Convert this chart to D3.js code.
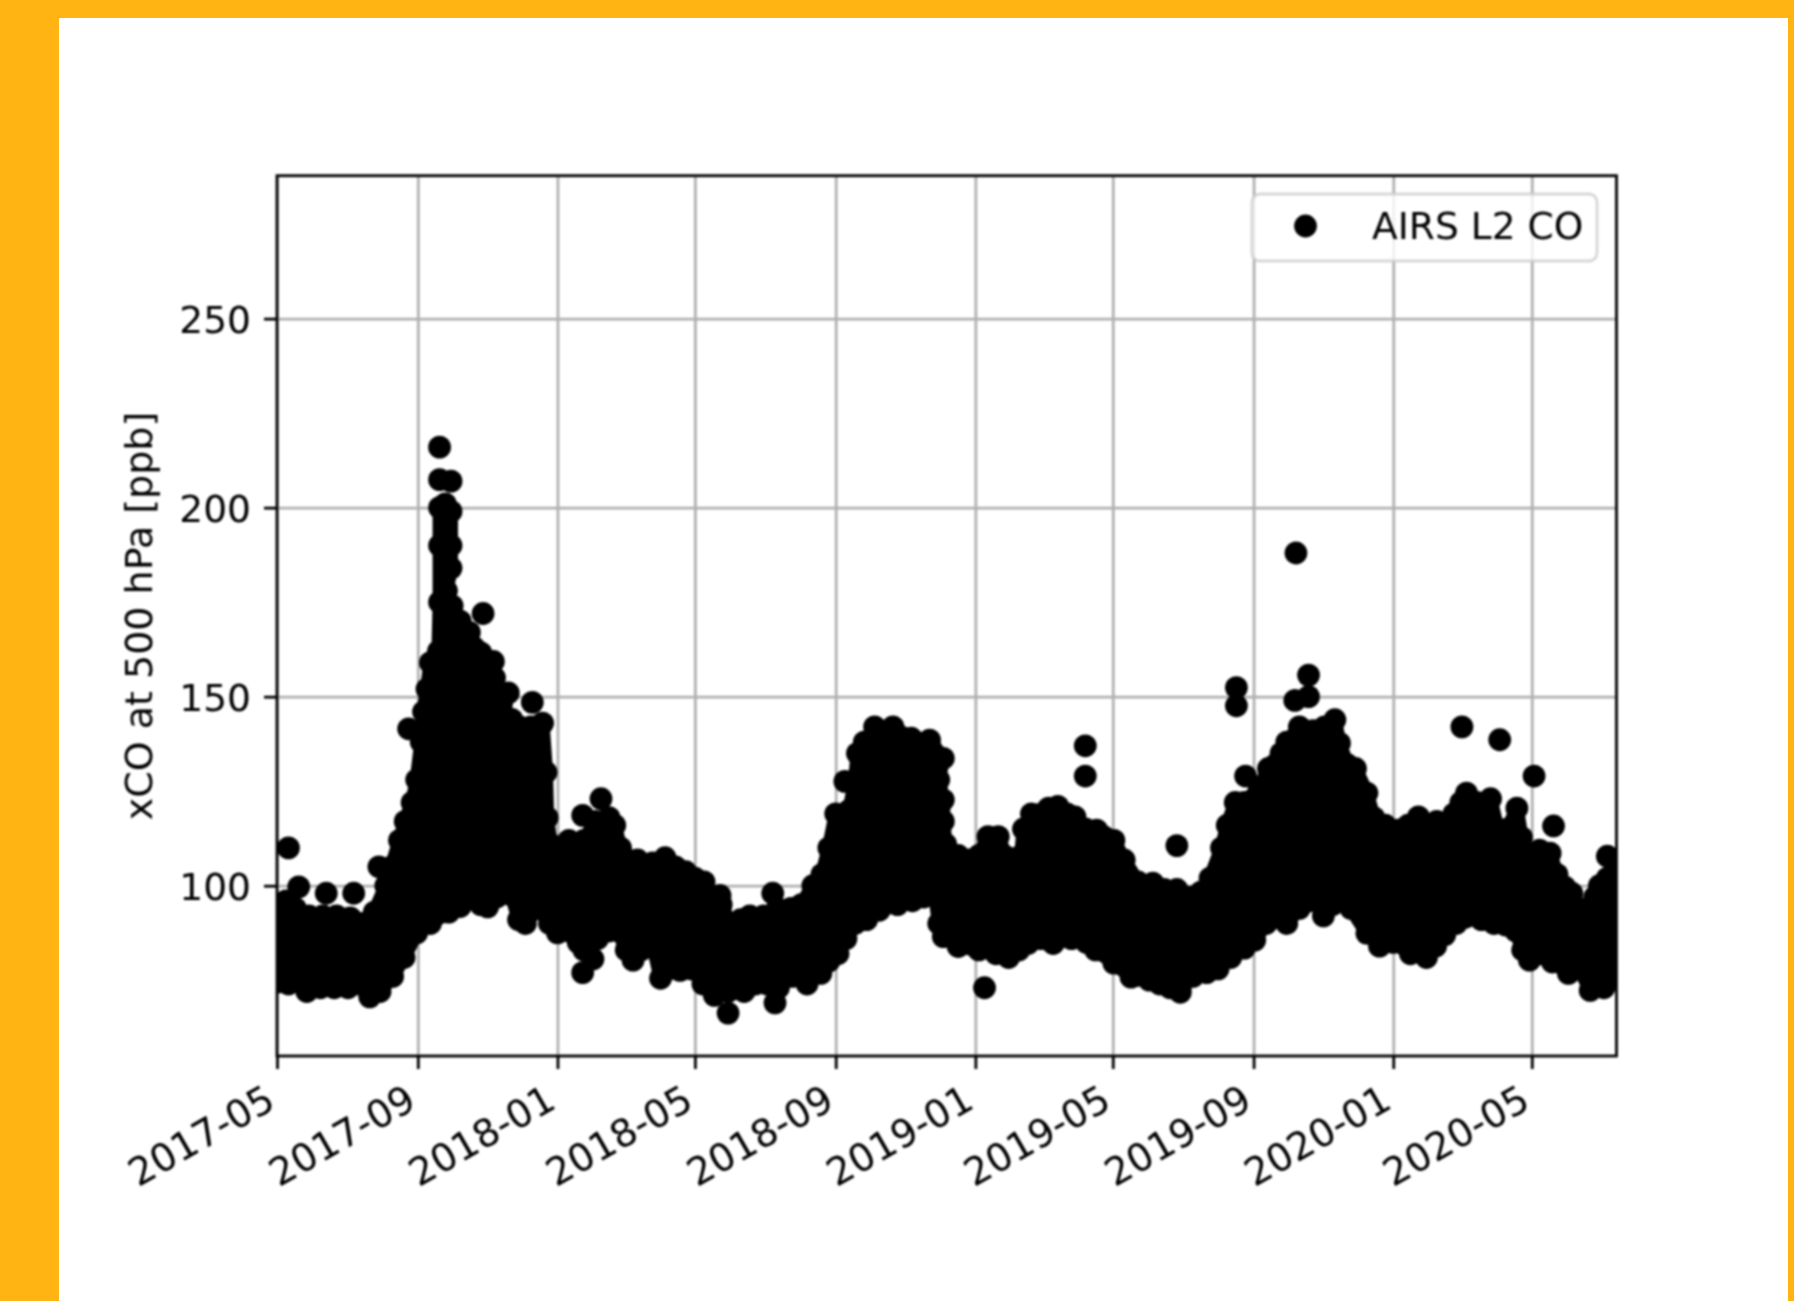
<!DOCTYPE html>
<html><head><meta charset="utf-8">
<script src="https://cdn.jsdelivr.net/npm/d3@7"></script>
<style>html,body{margin:0;padding:0;background:#ffb414}svg{display:block}</style>
</head><body><svg id="c" width="1794" height="1301"></svg>
<script>
// Values. Days count from 2017-05-01.
const tickMonths = ["2017-05","2017-09","2018-01","2018-05","2018-09","2019-01","2019-05","2019-09","2020-01","2020-05"];
const yTicks = [100,150,200,250];
const seriesName = "AIRS L2 CO";
const yLabel = "xCO at 500 hPa [ppb]";
// upper edge of the overlapping observations
const upperDays = [0,8,16,28,40,52,64,75,85,95,100,107,112,118,122,126,128,131,134,141,142,142,142,147,152,152,152,148,153,160,168,172,180,190,196,205,212,222,232,235,236,239,246,255,268,278,290,295,300,306,315,328,339,348,357,365,373,380,388,396,405,413,425,437,449,458,468,476,482,488,500,505,507,513,522,538,554,570,582,578,582,582,584,595,605,613,621,630,637,641,647,650,652,659,668,674,682,690,697,706,716,722,731,740,752,765,775,786,797,807,815,825,830,837,845,858,866,872,877,882,893,905,915,924,928,935,942,952,958,968,979,988,997,1005,1013,1022,1028,1034,1039,1048,1060,1066,1075,1083,1087,1095,1103,1112,1118,1125,1131,1137,1146,1151,1155,1162,1172];
const upperValues = [95,96,94,92,92,92,91.5,90,93,100,105,112,117,122,128,138,146,152,159,162,175,190,200,201,199,190,184,178,174,170,167,163,158,155,148,144,142,142,143,130,118,111,110,112,112,117,118,116,110,106.8,106.8,106,107.4,105,103.7,102,101,97,95,90,91,92,92,94,94,95,100,103,110,119,120,128,135,138,142,142,139,138.5,133.7,128,122.7,117,111,108,106.8,108,113,113,107.6,104,101,108,115,119,119,120.5,121,119,118.2,115,114.7,113,112,106.8,101,100.7,99,99,97,98.3,102,110,116,122,122,126,131,132,135,138,142,141,142,143.9,137.7,132,131,124.5,118,116,114.7,116,118.2,116,117,116,119,122,124.5,122,123,115,115,120.5,112.8,106,109.4,108.6,103,99.6,98,94,93,97,100,102,103];
// lower edge of the overlapping observations
const lowerDays = [0,10,18,26,38,50,62,72,81,90,101,111,122,134,150,160,170,178,184,192,205,211,217,228,238,245,255,263,268,280,290,298,305,311,318,328,335,342,352,362,372,382,394,408,418,428,438,450,463,475,482,490,497,505,515,526,542,555,565,575,578,582,595,613,628,639,648,656,667,678,694,702,707,715,731,746,752,762,771,780,789,800,812,822,833,845,854,864,873,882,893,902,908,914,922,928,938,952,963,975,990,1004,1012,1020,1030,1038,1052,1063,1073,1082,1088,1094,1104,1114,1128,1138,1147,1159,1168,1172];
const lowerValues = [74.5,74,75,72,73,73,73,74,70.6,72,76,81,87.5,90,93,94.5,98,95,94.4,97,97.5,91,90,94,90,87.5,88,85,83,86,88,88,83,80.3,83,85,75.5,78,77.6,78,74,71,72,72,74,74,73,76,74,76.8,80,82,86,90,91,93.5,95,96,97,97.5,90,86.5,83.9,83,82,81,83,84.7,86,84.7,86,87,85,83,79.5,75.8,76.3,75,74,73,73,76,77,78,81,83.5,85.6,90,91.7,90,94,96,96,92,95,98,94,87.4,84,85,82,81,84,87,90,91.7,91,90,89.6,88,83,80.3,82,79.8,76.8,78,72.3,73,76,79];
// observations standing clear of the dense mass
const outlierDays = [10,19,43,67,89,115,142,142,152,180,178,189,202,223,267,276,267,283,387,394,433,435,496,618,706,706,786,789,838,838,846,889,890,901,901,1035,1068,1098.5,1115,1162];
const outlierValues = [110,99.7,98,98,105,141.5,216,207.4,207,172,161.6,159.3,151,148.5,77,80.6,118.6,123,97.4,66.3,98,69,127.6,73,137,129,110.6,71.8,152.4,147.6,129,149,188,155.7,150,142,138.6,129,115.8,107.8];

const startDate = new Date(Date.UTC(2017,4,1));
const dayToDate = d => d3.utcDay.offset(startDate, Math.floor(d));
const plot = {left:277, right:1616.5, top:175.7, bottom:1056};
const x = d3.scaleUtc().domain([startDate, dayToDate(1170)]).range([plot.left, plot.right]);
const y = d3.scaleLinear().domain([54.95,287.8]).range([plot.bottom, plot.top]);

const svg = d3.select("#c");
svg.append("rect").attr("x",59).attr("y",18).attr("width",1729).attr("height",1283).attr("fill","#fff");
const chart = svg.append("g").style("filter","blur(1px)");
const FONT = "'DejaVu Sans'", INK="#000", LW=2.8, FS=37.6;
chart.append("defs").append("clipPath").attr("id","pc").append("rect")
  .attr("x",plot.left).attr("y",plot.top).attr("width",plot.right-plot.left).attr("height",plot.bottom-plot.top);

const xTickDates = tickMonths.map(d3.utcParse("%Y-%m"));
// grid
chart.append("g").attr("transform",`translate(0,${plot.bottom})`)
  .call(d3.axisBottom(x).tickValues(xTickDates).tickSize(plot.top-plot.bottom).tickFormat(""))
  .call(g=>g.select(".domain").remove())
  .selectAll("line").attr("stroke","#b0b0b0").attr("stroke-width",LW);
chart.append("g").attr("transform",`translate(${plot.left},0)`)
  .call(d3.axisLeft(y).tickValues(yTicks).tickSize(plot.left-plot.right).tickFormat(""))
  .call(g=>g.select(".domain").remove())
  .selectAll("line").attr("stroke","#b0b0b0").attr("stroke-width",LW);

// dense mass
const marks = chart.append("g").attr("clip-path","url(#pc)");
const upper = upperDays.map((d,i)=>[d,upperValues[i]]);
const lower = lowerDays.map((d,i)=>[d,lowerValues[i]]);
const outline = d3.line().x(p=>x(dayToDate(p[0]))).y(p=>y(p[1]));
marks.append("path").attr("d", outline(upper.concat(lower.slice().reverse()))+"Z")
  .attr("fill","#000").attr("stroke","#000").attr("stroke-width",14).attr("stroke-linejoin","round");
const outliers = outlierDays.map((d,i)=>[d,outlierValues[i]]);
marks.selectAll("circle").data(upper.concat(lower,outliers)).join("circle")
  .attr("cx",p=>x(dayToDate(p[0]))).attr("cy",p=>y(p[1])).attr("r",11.4).attr("fill","#000");

// spines
chart.append("rect").attr("x",plot.left).attr("y",plot.top).attr("width",plot.right-plot.left).attr("height",plot.bottom-plot.top)
  .attr("fill","none").attr("stroke",INK).attr("stroke-width",LW);

// axes
const xa = chart.append("g").attr("transform",`translate(0,${plot.bottom})`)
  .call(d3.axisBottom(x).tickValues(xTickDates).tickSize(13).tickFormat(d3.utcFormat("%Y-%m")));
xa.select(".domain").remove();
xa.selectAll("line").attr("stroke",INK).attr("stroke-width",LW);
xa.selectAll("text").attr("font-family",FONT).attr("font-size",38.5).attr("fill",INK)
  .attr("text-anchor","end").attr("dy",0)
  .attr("transform","translate(0,51) rotate(-30)").attr("y",0).attr("x",0);
const ya = chart.append("g").attr("transform",`translate(${plot.left},0)`)
  .call(d3.axisLeft(y).tickValues(yTicks).tickSize(13).tickPadding(13));
ya.select(".domain").remove();
ya.selectAll("line").attr("stroke",INK).attr("stroke-width",LW);
ya.selectAll("text").attr("font-family",FONT).attr("font-size",FS).attr("fill",INK).attr("y",2);

chart.append("text").attr("transform","translate(138,616) rotate(-90)").attr("text-anchor","middle").attr("dy","0.36em")
  .attr("font-family",FONT).attr("font-size",38).attr("fill",INK).text(yLabel);

// legend
const lg = chart.append("g");
lg.append("rect").attr("x",1252).attr("y",194).attr("width",345).attr("height",67).attr("rx",8)
  .attr("fill","#fff").attr("fill-opacity",0.8).attr("stroke","#ccc").attr("stroke-width",LW).attr("stroke-opacity",0.8);
lg.append("circle").attr("cx",1305.5).attr("cy",226).attr("r",11.4).attr("fill","#000");
lg.append("text").attr("x",1372).attr("y",225).attr("dy","0.36em").attr("font-family",FONT).attr("font-size",FS).attr("fill",INK).text(seriesName);
</script></body></html>
